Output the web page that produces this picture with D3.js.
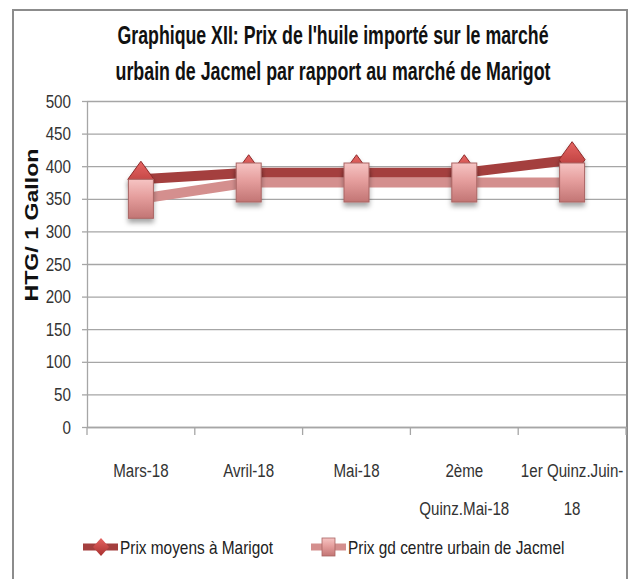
<!DOCTYPE html>
<html>
<head>
<meta charset="utf-8">
<script src="https://cdn.jsdelivr.net/npm/d3@7"></script>
<style>
  body { margin: 0; background: #fff; }
  text { font-family: "Liberation Sans", Arial, sans-serif; }
</style>
</head>
<body>
<div id="chart"></div>
<script>
// data
var categories = ["Mars-18", "Avril-18", "Mai-18", "2ème Quinz.Mai-18", "1er Quinz.Juin-18"];
var categoryLines = [["Mars-18"], ["Avril-18"], ["Mai-18"], ["2ème", "Quinz.Mai-18"], ["1er Quinz.Juin-", "18"]];
var marigot = [380, 390, 390, 390, 410];
var jacmel = [350, 375, 375, 375, 375];
var yTicks = [0, 50, 100, 150, 200, 250, 300, 350, 400, 450, 500];
var seriesNames = ["Prix moyens à Marigot", "Prix gd centre urbain de Jacmel"];
var titleLines = ["Graphique XII: Prix de l'huile importé sur le marché",
                  "urbain de Jacmel par rapport au marché de Marigot"];

var svgWidth = 634;
var svgHeight = 579;

var margin = { top: 101, right: 8, bottom: 152, left: 87 };
var width = svgWidth - margin.left - margin.right;
var height = svgHeight - margin.top - margin.bottom;

// the original font is narrow (Calibri), squeeze Liberation Sans to match
function condense(sel, k) {
  sel.each(function() {
    var w = this.getComputedTextLength();
    d3.select(this)
      .attr("textLength", w * k)
      .attr("lengthAdjust", "spacingAndGlyphs");
  });
}

var svg = d3.select("#chart")
  .append("svg")
  .attr("width", svgWidth)
  .attr("height", svgHeight);

var defs = svg.append("defs");

// gradients for the 3D looking markers
var gSq = defs.append("linearGradient").attr("id", "sqGrad")
  .attr("x1", 0).attr("y1", 0).attr("x2", 0).attr("y2", 1);
gSq.append("stop").attr("offset", "0%").attr("stop-color", "#f6c4c3");
gSq.append("stop").attr("offset", "45%").attr("stop-color", "#e59e9d");
gSq.append("stop").attr("offset", "100%").attr("stop-color", "#c27574");

var gDi = defs.append("linearGradient").attr("id", "diGrad")
  .attr("x1", 0).attr("y1", 0).attr("x2", 0).attr("y2", 1);
gDi.append("stop").attr("offset", "0%").attr("stop-color", "#e66462");
gDi.append("stop").attr("offset", "100%").attr("stop-color", "#a8302f");

var shadow = defs.append("filter").attr("id", "shadow")
  .attr("x", "-50%").attr("y", "-50%").attr("width", "200%").attr("height", "200%");
shadow.append("feDropShadow")
  .attr("dx", 0).attr("dy", 4).attr("stdDeviation", 2.5)
  .attr("flood-color", "#000").attr("flood-opacity", 0.35);

// outer frame
svg.append("rect")
  .attr("x", 13).attr("y", 10)
  .attr("width", 614).attr("height", 590)
  .attr("fill", "none")
  .attr("stroke", "#8c8c8c")
  .attr("stroke-width", 2);

// title
var titleWidths = [431, 435];
svg.append("g").selectAll("text")
  .data(titleLines)
  .enter()
  .append("text")
  .attr("x", 333)
  .attr("y", (d, i) => 44 + i * 36)
  .attr("text-anchor", "middle")
  .attr("font-weight", "bold")
  .attr("font-size", "25px")
  .attr("fill", "#111")
  .attr("textLength", (d, i) => titleWidths[i])
  .attr("lengthAdjust", "spacingAndGlyphs")
  .text(d => d);

var chartGroup = svg.append("g")
  .attr("transform", `translate(${margin.left}, ${margin.top})`);

var xScale = d3.scaleBand()
  .domain(categories)
  .range([0, width]);

var yScale = d3.scaleLinear()
  .domain([0, 500])
  .range([height, 0]);

// gridlines
chartGroup.append("g")
  .attr("class", "grid")
  .call(d3.axisLeft(yScale).tickValues(yTicks).tickSize(-width).tickFormat(""))
  .call(g => g.select(".domain").remove())
  .call(g => g.selectAll("line").attr("stroke", "#a6a6a6").attr("stroke-width", 1.3));

// y axis
chartGroup.append("g")
  .attr("class", "y-axis")
  .call(d3.axisLeft(yScale).tickValues(yTicks).tickSize(5).tickSizeOuter(0).tickPadding(11))
  .call(g => g.select(".domain").attr("stroke", "#a6a6a6").attr("stroke-width", 1.3))
  .call(g => g.selectAll(".tick line").attr("stroke", "#a6a6a6").attr("stroke-width", 1.3))
  .call(g => g.selectAll(".tick text")
    .attr("font-family", "Liberation Sans, Arial, sans-serif")
    .attr("font-size", "19px").attr("fill", "#333"));
condense(chartGroup.selectAll(".y-axis .tick text"), 0.8);

// x axis
var xAxis = chartGroup.append("g")
  .attr("class", "x-axis")
  .attr("transform", `translate(0, ${height})`)
  .call(d3.axisBottom(xScale).tickSize(0).tickSizeOuter(0).tickFormat(""))
  .call(g => g.select(".domain").attr("stroke", "#a6a6a6").attr("stroke-width", 1.3));

var bounds = categories.map(c => xScale(c)).concat([width]);
xAxis.selectAll(".bound")
  .data(bounds)
  .enter()
  .append("line")
  .attr("x1", d => d).attr("x2", d => d)
  .attr("y1", 0).attr("y2", 8)
  .attr("stroke", "#a6a6a6")
  .attr("stroke-width", 1.3);

xAxis.selectAll(".tick text").remove();
xAxis.selectAll(".tick")
  .append("text")
  .attr("fill", "#333")
  .attr("font-size", "18px")
  .attr("text-anchor", "middle")
  .each(function(d, i) {
    d3.select(this).selectAll("tspan")
      .data(categoryLines[i])
      .enter()
      .append("tspan")
      .attr("x", 0)
      .attr("y", (t, j) => 50 + j * 38)
      .text(t => t);
  });
condense(xAxis.selectAll(".tick tspan"), 0.84);

// y axis title
svg.append("text")
  .attr("transform", "translate(38, 225) rotate(-90)")
  .attr("text-anchor", "middle")
  .attr("font-weight", "bold")
  .attr("font-size", "19px")
  .attr("textLength", 153)
  .attr("lengthAdjust", "spacingAndGlyphs")
  .attr("fill", "#111")
  .text("HTG/ 1 Gallon");

var cx = (d, i) => xScale(categories[i]) + xScale.bandwidth() / 2;

var line = d3.line()
  .x(cx)
  .y(d => yScale(d));

// Marigot series (dark)
chartGroup.append("path")
  .datum(marigot)
  .attr("d", line)
  .attr("fill", "none")
  .attr("stroke", "#a43f3e")
  .attr("stroke-width", 10);

var diamond = "M0,-18 L13,0 L0,18 L-13,0 Z";
chartGroup.append("g").selectAll("path")
  .data(marigot)
  .enter()
  .append("path")
  .attr("transform", (d, i) => `translate(${cx(d, i)}, ${yScale(d)})`)
  .attr("d", diamond)
  .attr("fill", "url(#diGrad)")
  .attr("stroke", "#8e2a29")
  .attr("stroke-width", 1)
  .attr("filter", "url(#shadow)");

// Jacmel series (light)
chartGroup.append("path")
  .datum(jacmel)
  .attr("d", line)
  .attr("fill", "none")
  .attr("stroke", "#d48f8e")
  .attr("stroke-width", 10);

chartGroup.append("g").selectAll("rect")
  .data(jacmel)
  .enter()
  .append("rect")
  .attr("x", (d, i) => cx(d, i) - 12.5)
  .attr("y", d => yScale(d) - 19.5)
  .attr("width", 25)
  .attr("height", 39)
  .attr("fill", "url(#sqGrad)")
  .attr("stroke", "#a96463")
  .attr("stroke-width", 1)
  .attr("filter", "url(#shadow)");

// legend
var legend = svg.append("g").attr("transform", "translate(0, 547)");
var legendX = [83, 311];
var legendColors = ["#a43f3e", "#d48f8e"];

legendX.forEach((lx, i) => {
  var item = legend.append("g").attr("transform", `translate(${lx}, 0)`);
  item.append("line")
    .attr("x1", 0).attr("x2", 35)
    .attr("y1", 0).attr("y2", 0)
    .attr("stroke", legendColors[i])
    .attr("stroke-width", 7);
  if (i === 0) {
    item.append("path")
      .attr("transform", "translate(18, 0)")
      .attr("d", "M0,-9 L8,0 L0,9 L-8,0 Z")
      .attr("fill", "url(#diGrad)");
  } else {
    item.append("rect")
      .attr("x", 11).attr("y", -9)
      .attr("width", 13).attr("height", 18)
      .attr("fill", "url(#sqGrad)")
      .attr("stroke", "#a96463")
      .attr("stroke-width", 0.8);
  }
  item.append("text")
    .attr("x", 37)
    .attr("y", 7)
    .attr("font-size", "19px")
    .attr("fill", "#222")
    .text(seriesNames[i]);
});
condense(legend.selectAll("text"), 0.81);
</script>
</body>
</html>
